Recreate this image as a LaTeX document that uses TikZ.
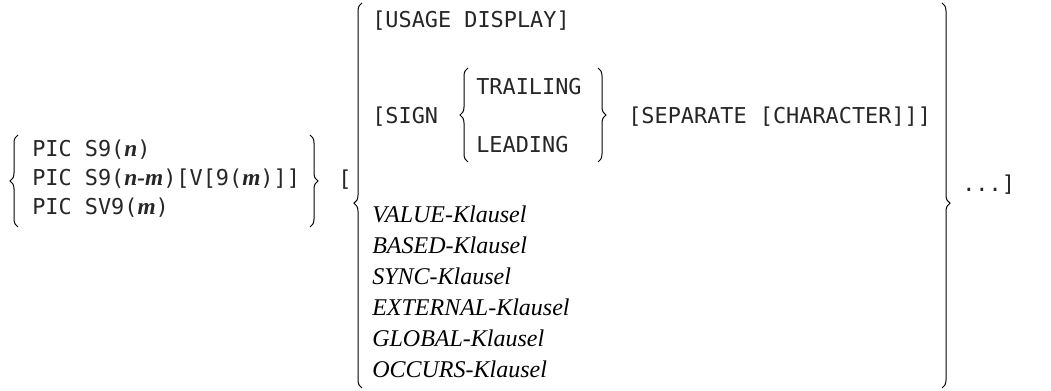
\documentclass[tikz,border=0pt]{standalone}
\usepackage{fontspec}
\setmainfont{Liberation Serif}
\newfontfamily\monof{DejaVu Sans Mono}
\usetikzlibrary{decorations.pathreplacing}
\newcommand{\bi}[1]{{\rmfamily\bfseries\itshape\fontsize{17.5}{20}\selectfont #1}}
\tikzset{
  mono/.style={font=\monof\fontsize{16.4}{19}\selectfont, anchor=base west, inner sep=0pt, text=black!85},
  kl/.style={font=\rmfamily\itshape\fontsize{18}{21}\selectfont, anchor=base west, inner sep=0pt},
  br/.style={line width=0.75pt, decorate, decoration={brace, amplitude=6pt, aspect=#1}},
  br/.default=0.5
}
\begin{document}
\begin{tikzpicture}[x=0.75pt, y=-0.75pt]
\useasboundingbox (0,0) rectangle (1051,391);
% left group
\node[mono] (p1) at (32,157) {PIC S9(\bi{n})};
\node[mono] (p2) at (32,186) {PIC S9(\bi{n-m})[V[9(\bi{m})]]};
\node[mono] (p3) at (32,215) {PIC SV9(\bi{m})};
\draw[br] (18,227) -- (18,135);
\draw[br] (310,135) -- (310,227);
\node[mono] (ob) at (338,187) {[};
% big group
\draw[br=0.48] (362,388) -- (362,3);
\node[mono] (usage) at (372,28) {[USAGE DISPLAY]};
\node[mono] (sign) at (372,124) {[SIGN};
\draw[br] (468,162) -- (468,68);
\node[mono] (trail) at (476,95) {TRAILING};
\node[mono] (lead) at (476,153) {LEADING};
\draw[br] (598,68) -- (598,162);
\node[mono] (sep) at (628,124) {[SEPARATE [CHARACTER]]]};
\node[kl] (k1) at (372,223) {VALUE-Klausel};
\node[kl] (k2) at (372,254) {BASED-Klausel};
\node[kl] (k3) at (372,285) {SYNC-Klausel};
\node[kl] (k4) at (372,316) {EXTERNAL-Klausel};
\node[kl] (k5) at (372,347) {GLOBAL-Klausel};
\node[kl] (k6) at (372,378) {OCCURS-Klausel};
\draw[br=0.52] (942,3) -- (942,388);
\node[mono] (dots) at (962,192) {...]};
\end{tikzpicture}
\end{document}
